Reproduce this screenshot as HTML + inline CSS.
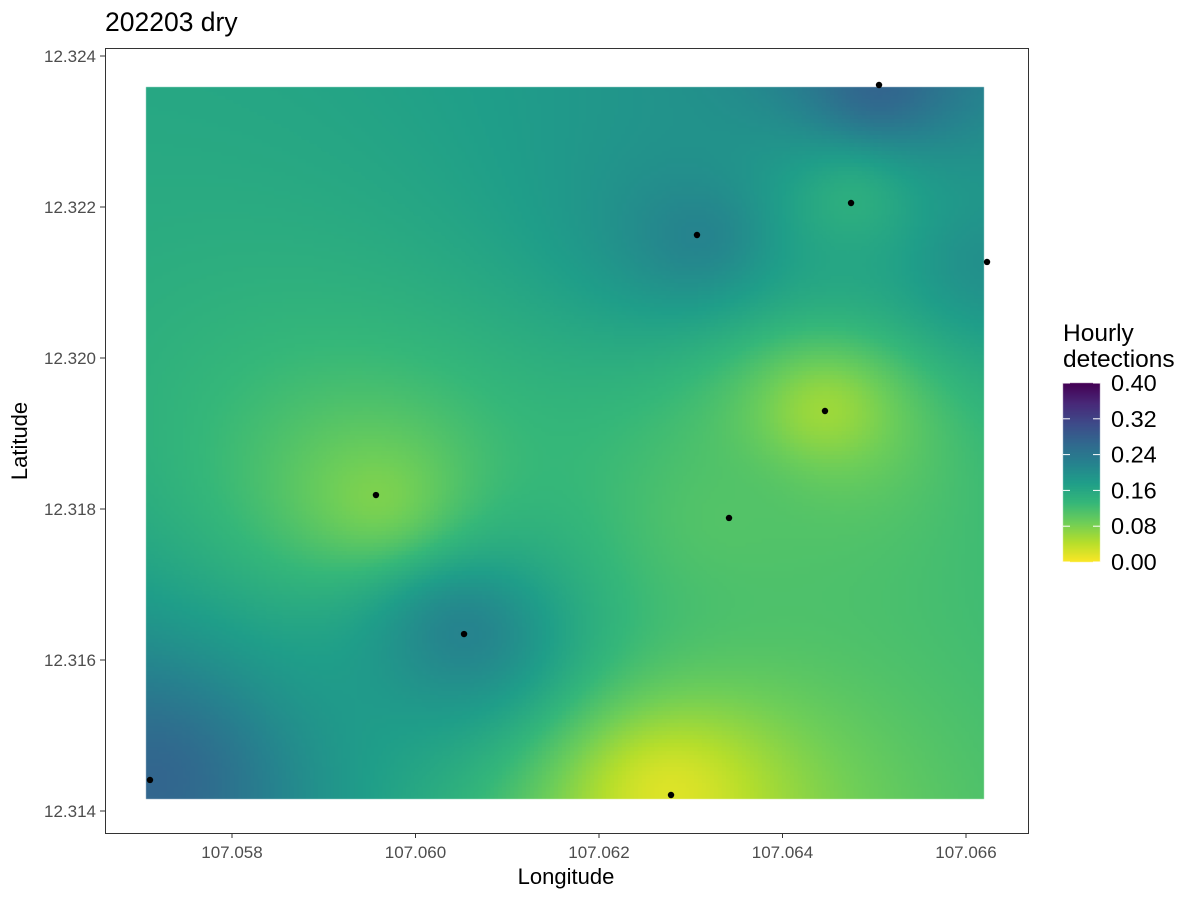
<!DOCTYPE html>
<html><head><meta charset="utf-8">
<style>
body{margin:0;background:#fff;font-family:"Liberation Sans",Arial,sans-serif;}
#wrap{position:relative;width:1200px;height:900px;}
canvas{position:absolute;left:0;top:0;}
svg{position:absolute;left:0;top:0;}
</style></head><body>
<div id="wrap">
<canvas id="cv" width="1200" height="900"></canvas>
<svg id="sv" width="1200" height="900"></svg>
</div>
<script>
const lons=[107.057106,107.059569,107.060529,107.062785,107.063068,107.063417,107.064463,107.064747,107.065052,107.066229];
const lats=[12.314411,12.318185,12.316344,12.314212,12.321629,12.317881,12.319298,12.322053,12.323616,12.321272];
const vals=[0.27,0.08,0.22,0.02,0.22,0.11,0.06,0.15,0.27,0.2];
const xTicks=[107.058,107.060,107.062,107.064,107.066];
const yTicks=[12.314,12.316,12.318,12.320,12.322,12.324];
const legTicks=[0,0.08,0.16,0.24,0.32,0.40];
const gridLon=[107.057063,107.066196];
const gridLat=[12.31416,12.32359];

const X=v=>232+(v-107.058)*91750;
const Y=v=>811-(v-12.314)*75500;
const vir=[[253,231,37],[181,222,43],[110,206,88],[53,183,121],[31,158,137],[38,130,142],[49,104,142],[62,74,137],[72,40,120],[68,1,84]];
function col(v){let t=Math.max(0,Math.min(1,v/0.4))*(vir.length-1);let i=Math.min(Math.floor(t),vir.length-2),f=t-i;
 const a=vir[i],b=vir[i+1];return `rgb(${Math.round(a[0]+(b[0]-a[0])*f)},${Math.round(a[1]+(b[1]-a[1])*f)},${Math.round(a[2]+(b[2]-a[2])*f)})`;}
function idw(lo,la){let n=0,d=0;for(let i=0;i<vals.length;i++){const dx=(lo-lons[i]),dy=(la-lats[i]);const r2=dx*dx+dy*dy;if(r2<1e-14)return vals[i];const w=1/r2;n+=w*vals[i];d+=w;}return n/d;}
const ctx=document.getElementById('cv').getContext('2d');
const x0=Math.round(X(gridLon[0])),x1=Math.round(X(gridLon[1])),y0=Math.round(Y(gridLat[1])),y1=Math.round(Y(gridLat[0]));
const step=4;
for(let py=y0;py<y1;py+=step){for(let px=x0;px<x1;px+=step){
 const w=Math.min(step,x1-px),h=Math.min(step,y1-py);
 const lo=107.058+(px+w/2-232)/91750, la=12.314+(811-(py+h/2))/75500;
 ctx.fillStyle=col(idw(lo,la));ctx.fillRect(px,py,w,h);}}
for(let py=383;py<562;py++){ctx.fillStyle=col(0.4*(562-py)/179);ctx.fillRect(1063,py,37,1);}

const sv=document.getElementById('sv');const NS='http://www.w3.org/2000/svg';
function mk(t,a,txt){const e=document.createElementNS(NS,t);for(const k in a)e.setAttribute(k,a[k]);if(txt!==undefined)e.textContent=txt;sv.appendChild(e);return e;}
let e=mk('rect',{x:105.5,y:48.5,width:923,height:785,fill:'none',stroke:'#333','stroke-width':1});


xTicks.forEach(v=>{let t=mk('line',{x1:X(v),x2:X(v),y1:833,y2:838,stroke:'#333'});
 
 
 let l=mk('text',{x:X(v),y:858,'text-anchor':'middle','font-size':17,fill:'#4d4d4d'},v.toFixed(3));
 
 });
yTicks.forEach(v=>{let t=mk('line',{x1:100,x2:105,y1:Y(v),y2:Y(v),stroke:'#333'});
 
 
 let l=mk('text',{x:96,y:Y(v)+6,'text-anchor':'end','font-size':17,fill:'#4d4d4d'},v.toFixed(3));
 
 });
lons.forEach((v,i)=>{let c=mk('circle',{cx:X(v),cy:Y(lats[i]),r:3.2,fill:'#000'});
 
 });
legTicks.forEach(v=>{const y=562-v/0.4*179;
 let a=mk('line',{x1:1063,x2:1070,y1:y,y2:y,stroke:'#fff'});
 let b=mk('line',{x1:1093,x2:1100,y1:y,y2:y,stroke:'#fff'});
 let l=mk('text',{x:1111,y:y+8,'font-size':23.5,fill:'#000'},v.toFixed(2));
 
 });
e=mk('text',{x:1063,y:341,'font-size':24.5},'Hourly');
e=mk('text',{x:1063,y:367,'font-size':24.5},'detections');
e=mk('text',{x:105,y:31,'font-size':26.5},'202203 dry');
e=mk('text',{x:566,y:884,'text-anchor':'middle','font-size':22},'Longitude');
e=mk('text',{x:27,y:441,'text-anchor':'middle','font-size':22,transform:'rotate(-90 27 441)'},'Latitude');
</script>
</body></html>
